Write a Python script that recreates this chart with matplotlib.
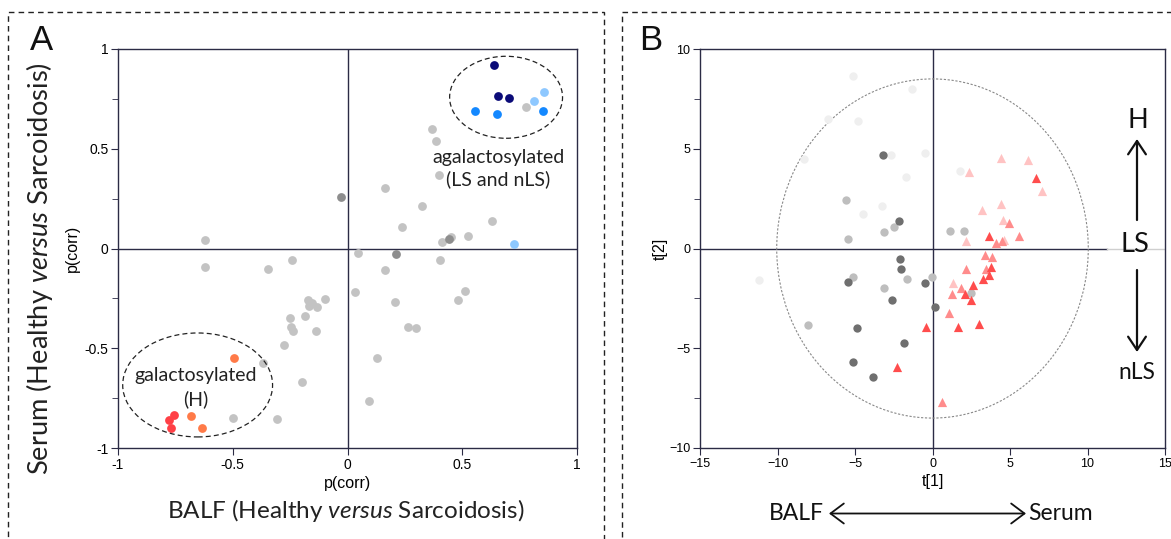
import matplotlib
matplotlib.use("Agg")
import matplotlib.pyplot as plt
from matplotlib.patches import Ellipse, Rectangle, FancyArrowPatch
from matplotlib.ticker import MultipleLocator

ARIAL = ['Liberation Sans', 'DejaVu Sans']
ROUND = ['Lato', 'DejaVu Sans']
plt.rcParams['mathtext.fontset'] = 'custom'
plt.rcParams['mathtext.rm'] = 'Lato'
plt.rcParams['mathtext.it'] = 'Lato:italic'

# ---------------- Panel A data: p(corr) BALF (x) vs p(corr) Serum (y) ----------------
a_gray_x = [0.776, 0.367, 0.386, 0.397, 0.162, 0.325, 0.239, 0.631, -0.621, 0.527, 0.452, 0.410,
            0.046, -0.243, 0.403, -0.621, -0.345, 0.162, 0.033, 0.510, 0.480, 0.208, -0.100, -0.171,
            -0.153, -0.166, -0.134, -0.251, -0.187, -0.248, -0.239, -0.139, 0.265, 0.300, -0.278,
            0.127, -0.368, -0.197, 0.092, -0.500, -0.307]
a_gray_y = [0.711, 0.597, 0.539, 0.370, 0.302, 0.213, 0.109, 0.138, 0.044, 0.064, 0.059, 0.034,
            -0.021, -0.059, -0.059, -0.093, -0.104, -0.109, -0.216, -0.213, -0.258, -0.268, -0.253, -0.258,
            -0.275, -0.287, -0.292, -0.347, -0.337, -0.395, -0.415, -0.415, -0.395, -0.400, -0.484,
            -0.547, -0.572, -0.668, -0.766, -0.848, -0.853]
a_dgray_x = [-0.028, 0.441, 0.213]
a_dgray_y = [0.257, 0.048, -0.029]
a_navy_x = [0.638, 0.654, 0.702]
a_navy_y = [0.918, 0.764, 0.754]
a_blue_x = [0.557, 0.651, 0.850]
a_blue_y = [0.691, 0.676, 0.691]
a_lblue_x = [0.811, 0.858, 0.724]
a_lblue_y = [0.739, 0.784, 0.024]
a_red_x = [-0.755, -0.776, -0.768]
a_red_y = [-0.835, -0.860, -0.898]
a_orange_x = [-0.493, -0.682, -0.634]
a_orange_y = [-0.547, -0.838, -0.898]

a_xticks = [-1, -0.5, 0, 0.5, 1]
a_xticklabels = ['-1', '-0.5', '0', '0.5', '1']
a_yticks = [-1, -0.5, 0, 0.5, 1]
a_yticklabels = ['-1', '-0.5', '0', '0.5', '1']

# ---------------- Panel B data: scores t[1] vs t[2] ----------------
b_vlight_x = [-5.15, -1.32, -6.74, -4.83, -8.29, -2.66, -0.50, -1.71, 1.80, -3.26, -4.46, -11.21]
b_vlight_y = [8.65, 8.00, 6.51, 6.38, 4.50, 4.69, 4.79, 3.60, 3.90, 2.13, 1.73, -1.58]
b_lgray_x = [-5.60, -2.46, -3.11, -5.47, 1.11, 2.03, -5.15, -1.65, -0.03, -3.11, -8.03, 2.48]
b_lgray_y = [2.41, 1.09, 0.83, 0.49, 0.89, 0.89, -1.43, -1.53, -1.43, -1.98, -3.85, -2.21]
b_dgray_x = [-3.17, -2.18, -2.12, -2.05, -5.47, -0.50, -2.59, 0.14, -4.89, -1.84, -5.15, -3.82]
b_dgray_y = [4.69, 1.38, -0.54, -1.04, -1.68, -1.73, -2.58, -2.93, -4.00, -4.75, -5.69, -6.42]
b_lpink_x = [2.37, 4.44, 6.14, 7.04, 3.19, 4.44, 4.57, 2.16, 1.34, 4.62]
b_lpink_y = [3.83, 4.54, 4.42, 2.90, 1.93, 2.23, 1.43, 0.39, -1.75, 0.45]
b_mpink_x = [4.94, 4.12, 4.50, 5.56, 1.04, 0.59, 3.37, 3.86, 2.18, 3.43, 1.84, 1.28]
b_mpink_y = [1.28, 0.29, 0.39, 0.64, -3.25, -7.68, -0.34, -0.44, -1.03, -1.01, -1.96, -2.28]
b_red_x = [6.70, 3.62, -2.29, -0.40, 1.66, 3.00, 3.75, 3.65, 3.24, 2.59, 2.12, 2.48]
b_red_y = [3.55, 0.63, -5.92, -3.92, -3.95, -3.80, -0.91, -1.35, -1.55, -1.83, -2.30, -2.58]

b_xticks = [-15, -10, -5, 0, 5, 10, 15]
b_yticks = [-10, -5, 0, 5, 10]

SPINE = '#2b2b45'
W, H = 1171, 539

fig = plt.figure(figsize=(W / 100, H / 100), dpi=100)


def fx(px):
    return px / W


def fy(py):
    return 1 - py / H


# dashed panel frames
fig.add_artist(Rectangle((fx(8), -0.05), fx(604 - 8), 1 - 12 / H + 0.05,
                         transform=fig.transFigure, fill=False, ls=(0, (4, 3)), lw=1.0,
                         ec='#222222'))
fig.add_artist(Rectangle((fx(622), -0.05), 0.5, 1 - 12 / H + 0.05,
                         transform=fig.transFigure, fill=False, ls=(0, (4, 3)), lw=1.0,
                         ec='#222222'))


def style_axes(ax, size):
    for s in ax.spines.values():
        s.set_color(SPINE)
        s.set_linewidth(1.0)
    ax.tick_params(which='both', direction='out', color=SPINE, top=False, right=False)
    ax.tick_params(which='major', length=5, labelsize=size, pad=2)
    ax.tick_params(which='minor', length=4)
    for lab in ax.get_xticklabels() + ax.get_yticklabels():
        lab.set_family(ARIAL)


# ---------------- Panel A ----------------
axA = fig.add_axes([fx(118), fy(448), fx(577 - 118), (448 - 49) / H])
axA.set_xlim(-1, 1)
axA.set_ylim(-1, 1)
axA.axhline(0, color=SPINE, lw=1.0, zorder=1)
axA.axvline(0, color=SPINE, lw=1.0, zorder=1)
ms = 40
axA.scatter(a_gray_x, a_gray_y, s=ms, color='#c3c3c3', lw=0, zorder=3)
axA.scatter(a_dgray_x, a_dgray_y, s=ms, color='#8e8e8e', lw=0, zorder=3)
axA.scatter(a_navy_x, a_navy_y, s=ms, color='#0b0b78', lw=0, zorder=3)
axA.scatter(a_blue_x, a_blue_y, s=ms, color='#1488ff', lw=0, zorder=3)
axA.scatter(a_lblue_x, a_lblue_y, s=ms, color='#8ec8ff', lw=0, zorder=3)
axA.scatter(a_red_x, a_red_y, s=ms, color='#ff4046', lw=0, zorder=3)
axA.scatter(a_orange_x, a_orange_y, s=ms, color='#ff7a48', lw=0, zorder=3)
axA.add_patch(Ellipse((0.691, 0.758), 0.492, 0.411, fill=False, ls=(0, (4, 2.5)),
                      lw=0.9, ec='#222222', zorder=4))
axA.add_patch(Ellipse((-0.653, -0.684), 0.653, 0.521, fill=False, ls=(0, (4, 2.5)),
                      lw=0.9, ec='#222222', zorder=4))
axA.set_xticks(a_xticks)
axA.set_xticklabels(a_xticklabels)
axA.set_yticks(a_yticks)
axA.set_yticklabels(a_yticklabels)
axA.yaxis.set_minor_locator(MultipleLocator(0.25))
style_axes(axA, 10)
axA.set_xlabel('p(corr)', family=ARIAL, fontsize=11.5, labelpad=3)
axA.set_ylabel('p(corr)', family=ARIAL, fontsize=11.5, labelpad=3)

texts_fit = []  # (text, target width in px along its reading direction)

t = fig.text(fx(498.5), fy(157), 'agalactosylated', ha='center', va='center',
             fontsize=13, family=ROUND, color='#222222', zorder=5)
texts_fit.append((t, 133))
t = fig.text(fx(498.5), fy(179.5), '(LS and nLS)', ha='center', va='center',
             fontsize=13, family=ROUND, color='#222222', zorder=5)
texts_fit.append((t, None, 0))
t = fig.text(fx(196), fy(376), 'galactosylated', ha='center', va='center',
             fontsize=13, family=ROUND, color='#222222', zorder=5)
texts_fit.append((t, 123))
t = fig.text(fx(196), fy(399), '(H)', ha='center', va='center',
             fontsize=13, family=ROUND, color='#222222', zorder=5)
texts_fit.append((t, None, 2))

t = fig.text(fx(346), fy(511), 'BALF (Healthy $\\it{versus}$ Sarcoidosis)', ha='center',
             va='center', fontsize=15, family=ROUND, color='#222222')
texts_fit.append((t, 358))
t = fig.text(fx(39.5), fy(269), 'Serum (Healthy $\\it{versus}$ Sarcoidosis)', ha='center',
             va='center', fontsize=16, family=ROUND, color='#222222', rotation=90)
texts_fit.append((t, 412))

fig.text(fx(42), fy(41), 'A', ha='center', va='center', fontsize=25,
         family=ARIAL, color='#111111')
fig.text(fx(651), fy(41), 'B', ha='center', va='center', fontsize=25,
         family=ARIAL, color='#111111')

# ---------------- Panel B ----------------
axB = fig.add_axes([fx(700), fy(448), fx(1165 - 700), (448 - 49) / H])
axB.set_xlim(-15, 15)
axB.set_ylim(-10, 10)
axB.plot([-15, 11.27], [0, 0], color=SPINE, lw=1.0, zorder=1)
axB.plot([11.27, 15], [0, 0], color='#cfcfcf', lw=1.0, zorder=1)
axB.axvline(0, color=SPINE, lw=1.0, zorder=1)
axB.add_patch(Ellipse((0, 0), 2 * 10.05, 2 * 8.5, fill=False, ls=(0, (2, 1.5)),
                      lw=0.8, ec='#888888', zorder=2))
cs = 36
ts = 44
axB.scatter(b_vlight_x, b_vlight_y, s=cs, color='#efefef', lw=0, zorder=3)
axB.scatter(b_lgray_x, b_lgray_y, s=cs, color='#bebebe', lw=0, zorder=3)
axB.scatter(b_dgray_x, b_dgray_y, s=cs, color='#6f6f6f', lw=0, zorder=3)
axB.scatter(b_lpink_x, b_lpink_y, s=ts, marker='^', color='#ffc3c3', lw=0, zorder=3)
axB.scatter(b_mpink_x, b_mpink_y, s=ts, marker='^', color='#ff8c8c', lw=0, zorder=3)
axB.scatter(b_red_x, b_red_y, s=ts, marker='^', color='#ff4d4d', lw=0, zorder=3)
axB.set_xticks(b_xticks)
axB.set_yticks(b_yticks)
axB.yaxis.set_minor_locator(MultipleLocator(2.5))
style_axes(axB, 9)
axB.set_xlabel('t[1]', family=ARIAL, fontsize=11.5, labelpad=3)
axB.set_ylabel('t[2]', family=ARIAL, fontsize=11.5, labelpad=1)

# right-hand annotations
t = fig.text(fx(1138), fy(120.5), 'H', ha='center', va='center', fontsize=15,
             family=ROUND, color='#111111')
texts_fit.append((t, None, 6))
t = fig.text(fx(1135), fy(245), 'LS', ha='center', va='center', fontsize=15,
             family=ROUND, color='#111111')
texts_fit.append((t, None, 6))
t = fig.text(fx(1136.5), fy(372.5), 'nLS', ha='center', va='center', fontsize=15,
             family=ROUND, color='#111111')
texts_fit.append((t, 37))
fig.add_artist(FancyArrowPatch(
    (fx(1137), fy(220)), (fx(1137), fy(139)), transform=fig.transFigure,
    arrowstyle='->,head_length=6,head_width=4', lw=1.6, color='#111111', mutation_scale=1.6,
    shrinkA=0, shrinkB=0))
fig.add_artist(FancyArrowPatch(
    (fx(1137), fy(270)), (fx(1137), fy(352)), transform=fig.transFigure,
    arrowstyle='->,head_length=6,head_width=4', lw=1.6, color='#111111', mutation_scale=1.6,
    shrinkA=0, shrinkB=0))

t = fig.text(fx(824), fy(513.5), 'BALF', ha='right', va='center', fontsize=16,
             family=ROUND, color='#111111')
texts_fit.append((t, 55))
t = fig.text(fx(1028), fy(513.5), 'Serum', ha='left', va='center', fontsize=16,
             family=ROUND, color='#111111')
texts_fit.append((t, None, 9))
fig.add_artist(FancyArrowPatch(
    (fx(829), fy(513.5)), (fx(1026), fy(513.5)), transform=fig.transFigure,
    arrowstyle='<->,head_length=6,head_width=4.5', lw=1.3, color='#111111', mutation_scale=1.6,
    shrinkA=0, shrinkB=0))

# size the free-floating text so that it spans the measured pixel widths
renderer = fig.canvas.get_renderer()
last_size = None
for _ in range(2):
    for entry in texts_fit:
        txt = entry[0]
        target = entry[1]
        if target is None:
            continue
        bb = txt.get_window_extent(renderer)
        span = bb.height if txt.get_rotation() == 90 else bb.width
        txt.set_fontsize(txt.get_fontsize() * target / span)
# companion lines take the size of the fitted line before them
fitted = None
for entry in texts_fit:
    if entry[1] is not None:
        fitted = entry[0].get_fontsize()
    else:
        entry[0].set_fontsize(fitted)

fig.savefig('out.png', dpi=100)
